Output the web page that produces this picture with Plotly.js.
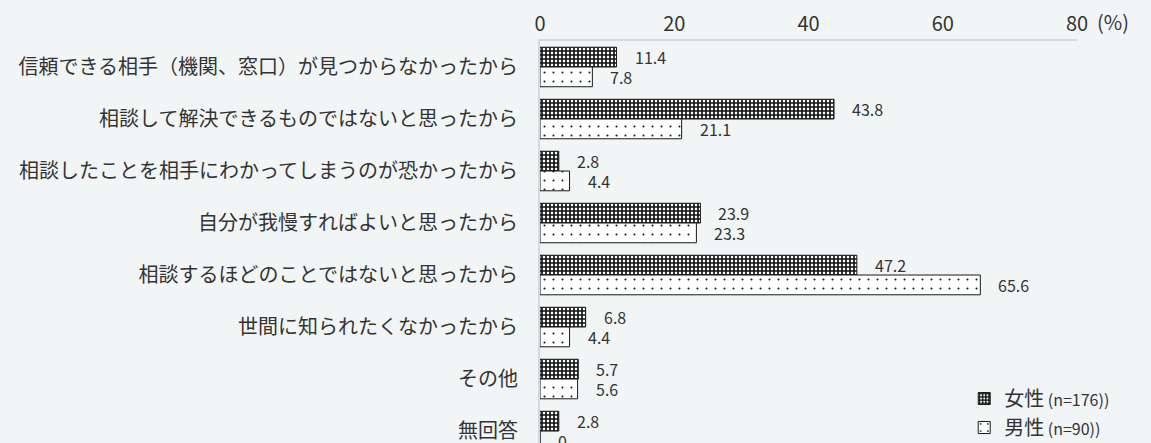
<!DOCTYPE html>
<html>
<head>
<meta charset="utf-8">
<script src="https://cdn.plot.ly/plotly-3.0.1.min.js"></script>
<style>html,body{margin:0;padding:0;background:#f2f5f6;}</style>
</head>
<body>
<div id="chart" style="width:1151px;height:443px;"></div>
<script>
const categories = [
  "信頼できる相手（機関、窓口）が見つからなかったから",
  "相談して解決できるものではないと思ったから",
  "相談したことを相手にわかってしまうのが恐かったから",
  "自分が我慢すればよいと思ったから",
  "相談するほどのことではないと思ったから",
  "世間に知られたくなかったから",
  "その他",
  "無回答"
];
const femaleValues = [11.4, 43.8, 2.8, 23.9, 47.2, 6.8, 5.7, 2.8];
const maleValues = [7.8, 21.1, 4.4, 23.3, 65.6, 4.4, 5.6, 0];
const femaleName = "女性<span style='font-size:16px'> (n=176))</span>";
const maleName = "男性<span style='font-size:16px'> (n=90))</span>";
const tickValues = [0, 20, 40, 60, 80];
const tickLabels = ["0", "20", "40", "60", "80"];

const textColor = "#333333";
const cjk = "'Noto Sans CJK JP', 'Noto Sans', sans-serif";

const female = {
  type: "bar", orientation: "h", name: femaleName, legendgroup: "f",
  x: femaleValues, y: categories,
  marker: {
    color: "#1a1a1a",
    line: {color: "#1a1a1a", width: 1},
    pattern: {shape: "+", fgcolor: "#111111", bgcolor: "#ffffff", size: 4, solidity: 0.66, fillmode: "replace"}
  },
  hoverinfo: "skip"
};
const male = {
  type: "bar", orientation: "h", name: maleName, legendgroup: "m",
  x: maleValues, y: categories,
  marker: {
    color: "#ffffff",
    line: {color: "#1a1a1a", width: 1},
    pattern: {shape: ".", fgcolor: "#111111", bgcolor: "#ffffff", size: 9, solidity: 0.04, fillmode: "replace"}
  },
  hoverinfo: "skip"
};

const annotations = [];
categories.forEach((c, i) => {
  annotations.push({x: femaleValues[i], y: c, xref: "x", yref: "y", text: femaleValues[i].toFixed(1),
    showarrow: false, xanchor: "left", yanchor: "middle", xshift: 16, yshift: 10,
    font: {size: 16, color: textColor, family: cjk}});
  annotations.push({x: maleValues[i], y: c, xref: "x", yref: "y",
    text: maleValues[i] === 0 ? "0" : maleValues[i].toFixed(1),
    showarrow: false, xanchor: "left", yanchor: "middle", xshift: 16, yshift: -10,
    font: {size: 16, color: textColor, family: cjk}});
});
annotations.push({x: 1, y: 1, xref: "paper", yref: "paper", text: "(%)", showarrow: false,
  xanchor: "left", yanchor: "middle", xshift: 18, yshift: 20,
  font: {size: 20, color: textColor, family: cjk}});

const layout = {
  width: 1151, height: 443,
  paper_bgcolor: "#f2f5f6", plot_bgcolor: "#f2f5f6",
  margin: {l: 540, r: 74, t: 41, b: 0, pad: 0, autoexpand: false},
  barmode: "group", bargap: 0.24, bargroupgap: 0,
  showlegend: true,
  legend: {
    x: 0.79, y: -0.01, xanchor: "left", yanchor: "bottom", xref: "paper", yref: "paper",
    bgcolor: "rgba(0,0,0,0)", font: {size: 20, color: textColor, family: cjk},
    tracegroupgap: 10, itemwidth: 30, traceorder: "normal"
  },
  xaxis: {
    side: "top", range: [0, 80], tickvals: tickValues, ticktext: tickLabels,
    showgrid: false, zeroline: false, showline: true, linecolor: "#d6d9db", linewidth: 2,
    ticks: "", tickfont: {size: 20, color: textColor, family: cjk}, fixedrange: true
  },
  yaxis: {
    type: "category", categoryorder: "array", categoryarray: categories,
    range: [7.23, -0.5], showgrid: false, zeroline: false,
    showline: true, linecolor: "#d6d9db", linewidth: 2,
    ticks: "", ticklabelstandoff: 16,
    tickfont: {size: 20, color: textColor, family: cjk}, fixedrange: true
  },
  annotations: annotations,
  font: {family: cjk, color: textColor}
};

Plotly.newPlot("chart", [female, male], layout, {displayModeBar: false, staticPlot: true});
</script>
</body>
</html>
